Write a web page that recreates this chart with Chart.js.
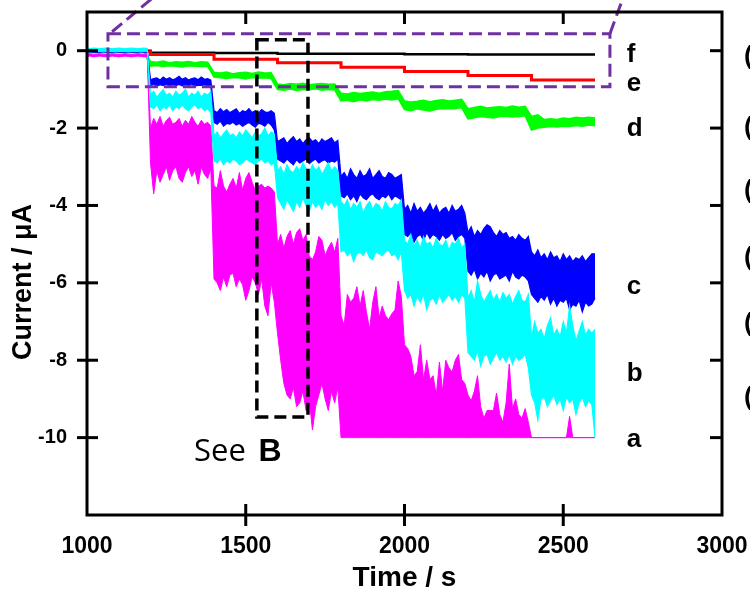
<!DOCTYPE html>
<html lang="en">
<head>
<meta charset="UTF-8">
<title>Amperometric response</title>
<script src="https://cdn.jsdelivr.net/npm/chart.js"></script>
<style>
  html, body { margin: 0; padding: 0; background: #fff; }
</style>
</head>
<body>
<canvas id="ampChart" width="750" height="589"></canvas>
<script>
// axis ticks
var xTicks = [1000, 1500, 2000, 2500, 3000];
var yTicks = [0, -2, -4, -6, -8, -10];

// noisy traces are stored as upper / lower edge of the noise band
var tStart = 1000;
var tStep = 10;    // a, b, c
var tStepD = 20;   // d

// trace a (magenta), 1000-2600 s every 10 s
var aHi = [
  -0.09, -0.08, -0.1, -0.09, -0.08, -0.09, -0.1, -0.09, -0.08, -0.09,
  -0.1, -0.09, -0.08, -0.09, -0.1, -0.09, -0.08, -0.09, -0.1, -0.09,
  -2.0, -1.75, -1.9, -1.7, -1.95, -1.8, -1.72, -1.9, -1.85, -1.75,
  -1.95, -1.8, -1.9, -1.7, -1.85, -1.95, -1.8, -1.9, -1.85, -1.95,
  -3.5, -3.55, -3.1, -3.5, -3.65, -3.45, -3.3, -3.55, -3.15, -3.6,
  -3.3, -3.15, -3.4, -3.6, -3.5, -3.45, -3.55, -3.5, -3.55, -3.65,
  -5.0, -4.75, -5.1, -4.8, -4.65, -5.0, -4.7, -4.6, -4.9, -4.75,
  -5.3, -5.4, -5.2, -4.8, -4.9, -5.3, -5.1, -4.95, -5.2, -4.85,
  -6.85, -7.1, -6.3, -6.5, -6.4, -6.1, -6.6, -6.2, -6.75, -7.2,
  -6.5, -6.1, -6.9, -6.6, -6.85, -6.95, -6.8, -6.7, -5.95, -6.35,
  -7.6, -7.7, -7.9, -8.4, -8.3, -7.6, -8.5, -8.0, -8.5, -8.4,
  -8.9, -8.05, -8.8, -8.0, -8.2, -8.3, -8.0, -7.85, -8.5, -8.6,
  -8.9, -9.05, -8.8, -8.4, -9.2, -9.5, -9.3, -9.3, -9.3, -8.85,
  -9.4, -9.6, -9.1, -8.1, -9.25, -9.0, -9.4, -9.5, -9.25, -9.6,
  -10, -10, -10, -10, -10, -10, -10, -10, -10, -10,
  -10, -10, -9.45, -10, -10, -10, -10, -10, -10, -10,
  -10
];
var aLo = [
  -0.15, -0.14, -0.16, -0.15, -0.14, -0.15, -0.16, -0.15, -0.14, -0.15,
  -0.16, -0.15, -0.14, -0.15, -0.16, -0.15, -0.14, -0.15, -0.16, -0.15,
  -2.9, -3.7, -3.1, -3.4, -3.2, -3.0, -3.35, -3.1, -3.0, -3.3,
  -3.4, -3.15, -3.0, -3.25, -3.1, -3.45, -3.0, -3.2, -3.3, -3.05,
  -5.9, -6.0, -6.2, -5.85, -6.1, -5.8, -5.75, -6.1, -5.9, -6.05,
  -6.45, -6.2, -5.85, -6.0, -6.3, -5.9, -6.6, -6.85, -6.0, -6.5,
  -7.3, -8.0, -8.6, -8.9, -9.0, -8.7, -9.2, -9.1, -8.8, -9.3,
  -9.0, -9.8, -9.2, -8.9, -8.6, -9.0, -9.3, -8.8, -9.1, -8.7,
  -10, -10, -10, -10, -10, -10, -10, -10, -10, -10,
  -10, -10, -10, -10, -10, -10, -10, -10, -10, -10,
  -10, -10, -10, -10, -10, -10, -10, -10, -10, -10,
  -10, -10, -10, -10, -10, -10, -10, -10, -10, -10,
  -10, -10, -10, -10, -10, -10, -10, -10, -10, -10,
  -10, -10, -10, -10, -10, -10, -10, -10, -10, -10,
  -10, -10, -10, -10, -10, -10, -10, -10, -10, -10,
  -10, -10, -10, -10, -10, -10, -10, -10, -10, -10,
  -10
];

// trace b (cyan)
var bHi = [
  0.06, 0.05, 0.07, 0.06, 0.05, 0.06, 0.07, 0.06, 0.05, 0.06,
  0.07, 0.06, 0.05, 0.06, 0.07, 0.06, 0.05, 0.06, 0.07, 0.06,
  -1.15, -1.05, -1.2, -1.1, -1.0, -1.15, -1.1, -1.2, -1.05, -1.15,
  -1.1, -1.0, -1.2, -1.1, -1.15, -1.05, -1.2, -1.1, -1.15, -1.05,
  -2.2, -2.1, -2.25, -2.15, -2.05, -2.2, -2.15, -2.25, -2.1, -2.2,
  -2.05, -2.15, -2.25, -2.1, -2.2, -2.15, -2.0, -2.2, -2.1, -2.15,
  -3.1, -3.0, -3.2, -2.95, -3.1, -3.15, -3.0, -3.1, -2.9, -3.05,
  -3.15, -2.95, -3.1, -3.0, -3.2, -3.05, -2.9, -3.1, -3.0, -3.1,
  -3.9, -4.0, -3.85, -4.1, -3.95, -4.05, -3.9, -4.2, -4.0, -3.9,
  -4.1, -3.95, -4.0, -4.15, -3.9, -4.05, -4.1, -3.95, -4.0, -3.85,
  -4.9, -5.0, -4.75, -5.05, -4.9, -5.1, -4.8, -5.0, -4.95, -5.1,
  -4.85, -5.0, -5.05, -4.9, -5.15, -4.95, -5.0, -4.85, -5.1, -5.0,
  -6.4, -6.2, -6.5, -5.95, -6.3, -6.5, -6.35, -6.2, -6.45, -6.3,
  -6.5, -6.25, -6.4, -6.3, -6.55, -6.35, -6.2, -6.45, -6.5, -6.3,
  -7.4, -7.0, -7.3, -7.2, -7.45, -7.1, -6.9, -7.35, -7.2, -7.4,
  -7.0, -7.3, -6.6, -7.1, -7.5, -7.25, -7.0, -7.35, -7.2, -7.3,
  -7.2
];
var bLo = [
  -0.02, -0.03, -0.02, -0.01, -0.02, -0.03, -0.02, -0.01, -0.02, -0.03,
  -0.02, -0.01, -0.02, -0.03, -0.02, -0.01, -0.02, -0.03, -0.02, -0.02,
  -1.45, -1.5, -1.4, -1.55, -1.45, -1.5, -1.4, -1.55, -1.45, -1.5,
  -1.4, -1.5, -1.55, -1.45, -1.4, -1.5, -1.45, -1.55, -1.5, -1.6,
  -2.85, -2.9, -2.8, -2.95, -2.85, -2.9, -2.8, -2.85, -2.95, -2.9,
  -2.8, -2.85, -2.9, -2.95, -2.85, -2.8, -2.9, -2.85, -2.95, -2.9,
  -3.8, -3.95, -4.1, -3.85, -4.0, -4.15, -3.9, -4.05, -3.8, -4.0,
  -4.15, -3.9, -4.05, -3.95, -4.1, -3.85, -4.0, -3.9, -4.05, -3.95,
  -5.2, -5.15, -5.3, -5.2, -5.45, -5.25, -5.2, -5.3, -5.15, -5.35,
  -5.4, -5.2, -5.25, -5.3, -5.2, -5.15, -5.3, -5.25, -5.4, -5.2,
  -6.2, -6.4, -6.3, -6.6, -6.35, -6.5, -6.3, -6.7, -6.45, -6.4,
  -6.55, -6.3, -6.5, -6.4, -6.3, -6.45, -6.35, -6.5, -6.3, -6.4,
  -7.8, -7.9, -8.0, -7.75, -8.15, -7.9, -7.85, -8.1, -7.95, -7.8,
  -8.0, -7.9, -8.05, -7.85, -8.1, -7.9, -8.0, -7.95, -7.85, -8.2,
  -8.9, -9.1, -9.55, -9.0, -8.95, -9.2, -9.05, -8.9, -9.15, -9.0,
  -9.3, -8.95, -9.1, -9.0, -9.4, -9.1, -8.95, -9.2, -9.05, -9.15,
  -10
];

// trace c (blue)
var cHi = [
  0, 0, 0, 0, 0, 0, 0, 0, 0, 0,
  0, 0, 0, 0, 0, 0, 0, 0, 0, 0,
  -0.75, -0.72, -0.7, -0.76, -0.68, -0.74, -0.7, -0.75, -0.72, -0.66,
  -0.74, -0.7, -0.76, -0.72, -0.7, -0.75, -0.68, -0.74, -0.72, -0.76,
  -1.55, -1.6, -1.5, -1.58, -1.52, -1.6, -1.55, -1.5, -1.62, -1.55,
  -1.58, -1.5, -1.6, -1.55, -1.62, -1.52, -1.58, -1.6, -1.55, -1.62,
  -2.35, -2.3, -2.25, -2.4, -2.3, -2.22, -2.35, -2.28, -2.4, -2.3,
  -2.25, -2.35, -2.3, -2.4, -2.28, -2.35, -2.3, -2.25, -2.38, -2.32,
  -3.25, -3.15, -3.3, -3.05, -3.2, -3.3, -3.1, -3.25, -3.2, -3.05,
  -3.3, -3.2, -3.1, -3.25, -3.3, -3.15, -3.2, -3.3, -3.25, -3.2,
  -4.1, -4.0, -4.2, -3.95, -4.15, -4.05, -4.2, -4.1, -3.95, -4.15,
  -4.0, -4.2, -4.1, -4.05, -4.2, -4.0, -4.15, -4.1, -4.0, -4.2,
  -4.7, -4.55, -4.8, -4.65, -4.75, -4.6, -4.5, -4.55, -4.7, -4.8,
  -4.65, -4.75, -4.7, -4.85, -4.8, -4.9, -4.75, -4.85, -4.9, -4.8,
  -5.2, -5.3, -5.15, -5.35, -5.25, -5.4, -5.2, -5.35, -5.3, -5.45,
  -5.25, -5.4, -5.3, -5.45, -5.35, -5.4, -5.3, -5.45, -5.35, -5.25,
  -5.25
];
var cLo = [
  -0.04, -0.04, -0.04, -0.04, -0.04, -0.04, -0.04, -0.04, -0.04, -0.04,
  -0.04, -0.04, -0.04, -0.04, -0.04, -0.04, -0.04, -0.04, -0.04, -0.04,
  -0.9, -0.86, -0.92, -0.88, -0.9, -0.86, -0.92, -0.88, -0.9, -0.87,
  -0.91, -0.88, -0.9, -0.86, -0.92, -0.89, -0.9, -0.88, -0.91, -0.9,
  -1.85, -1.9, -1.82, -1.95, -1.88, -1.9, -1.85, -1.92, -1.88, -1.95,
  -1.9, -1.85, -1.92, -1.98, -1.88, -1.9, -1.95, -1.85, -1.92, -2.05,
  -2.8, -2.85, -2.9, -2.8, -2.88, -2.95, -2.82, -2.9, -2.85, -2.8,
  -2.92, -2.85, -2.8, -2.9, -2.85, -2.82, -2.9, -2.85, -2.88, -2.8,
  -3.75, -3.8, -3.7, -3.85, -3.75, -3.9, -3.7, -3.8, -3.85, -3.75,
  -3.7, -3.8, -3.85, -3.75, -3.8, -3.7, -3.85, -3.75, -3.8, -3.85,
  -4.75, -4.8, -4.7, -4.95, -4.8, -4.75, -4.9, -4.7, -4.85, -4.75,
  -4.8, -4.9, -4.75, -4.85, -4.8, -4.7, -4.9, -4.8, -4.75, -4.85,
  -5.7, -5.8, -5.65, -5.9, -5.75, -5.85, -5.7, -5.95, -5.8, -5.75,
  -5.9, -5.85, -5.8, -5.95, -5.7, -5.85, -5.9, -5.8, -5.85, -5.95,
  -6.3, -6.4, -6.5, -6.35, -6.45, -6.3, -6.55, -6.4, -6.6, -6.45,
  -6.5, -6.4, -6.7, -6.55, -6.6, -6.45, -6.75, -6.5, -6.6, -6.55,
  -6.4
];

// trace d (green), 1000-2600 s every 20 s
var dHi = [
  0, 0, 0, 0, 0, 0, 0, 0, 0, 0,
  -0.28, -0.3, -0.27, -0.31, -0.29, -0.3, -0.28, -0.31, -0.29, -0.3,
  -0.56, -0.58, -0.55, -0.6, -0.57, -0.56, -0.59, -0.55, -0.58, -0.57,
  -0.86, -0.88, -0.85, -0.87, -0.84, -0.88, -0.86, -0.85, -0.87, -0.86,
  -1.1, -1.12, -1.08, -1.11, -1.09, -1.07, -1.1, -1.06, -1.05, -1.03,
  -1.3, -1.33, -1.31, -1.28, -1.32, -1.29, -1.27, -1.3, -1.28, -1.26,
  -1.5, -1.47, -1.44, -1.48, -1.46, -1.45, -1.47, -1.43, -1.46, -1.44,
  -1.7, -1.66, -1.78, -1.76, -1.78, -1.74, -1.76, -1.72, -1.74, -1.72,
  -1.74
];
var dLo = [
  -0.04, -0.04, -0.04, -0.04, -0.04, -0.04, -0.04, -0.04, -0.04, -0.04,
  -0.4, -0.38, -0.41, -0.39, -0.4, -0.42, -0.39, -0.4, -0.41, -0.4,
  -0.68, -0.7, -0.72, -0.69, -0.7, -0.73, -0.69, -0.71, -0.7, -0.72,
  -1.0, -1.02, -0.99, -1.03, -1.0, -1.01, -0.98, -1.02, -1.0, -1.01,
  -1.3, -1.28, -1.32, -1.27, -1.3, -1.26, -1.28, -1.25, -1.27, -1.24,
  -1.52, -1.55, -1.5, -1.53, -1.56, -1.51, -1.5, -1.49, -1.5, -1.47,
  -1.76, -1.73, -1.7, -1.72, -1.74, -1.7, -1.69, -1.71, -1.7, -1.68,
  -2.05, -2.0, -1.98, -1.96, -1.97, -1.95, -1.96, -1.93, -1.95, -1.92,
  -1.94
];

// traces e (red) and f (black): level held from each time to the next
var stepTimes = [1000, 1200, 1400, 1600, 1800, 2000, 2200, 2400, 2600];
var eLevels = [-0.03, -0.1, -0.22, -0.31, -0.43, -0.54, -0.64, -0.76, -0.76];
var fLevels = [0, -0.05, -0.06, -0.08, -0.08, -0.09, -0.1, -0.1, -0.1];

var FONT = '"Liberation Sans", Arial, sans-serif';

function edge(values, step) {
  return values.map(function (v, i) { return { x: tStart + i * step, y: v }; });
}

// a noisy trace: upper edge filled down to the lower edge
function band(name, hi, lo, step, color, width, order) {
  return [
    { label: name, data: edge(hi, step), borderColor: color, backgroundColor: color,
      borderWidth: width, fill: '+1', order: order },
    { label: name + ' (lower)', data: edge(lo, step), borderColor: color,
      borderWidth: width, fill: false, order: order }
  ];
}

function stepLine(levels) {
  return stepTimes.map(function (t, i) { return { x: t, y: levels[i] }; });
}

function seg(ctx, x1, y1, x2, y2) {
  ctx.beginPath();
  ctx.moveTo(x1, y1);
  ctx.lineTo(x2, y2);
  ctx.stroke();
}

// frame, tick marks, titles, trace letters and the dashed boxes
var decor = {
  id: 'decor',
  afterDraw: function (chart) {
    var ctx = chart.ctx;
    var area = chart.chartArea;
    var xs = chart.scales.x;
    var ys = chart.scales.y;
    var px = function (v) { return xs.getPixelForValue(v); };
    var py = function (v) { return ys.getPixelForValue(v); };

    ctx.save();

    // zoom-in box around the small currents
    ctx.strokeStyle = '#7030A0';
    ctx.lineWidth = 3;
    ctx.setLineDash([13, 6]);
    ctx.strokeRect(px(1066), py(0.44), px(2647) - px(1066), py(-0.93) - py(0.44));
    seg(ctx, px(1079), py(0.49), px(1212), py(1.4));
    seg(ctx, px(2647), py(0.44), px(2690), py(1.4));

    // box marking the region shown in panel B
    ctx.strokeStyle = '#000';
    ctx.lineWidth = 3.5;
    ctx.setLineDash([12, 6]);
    ctx.strokeRect(px(1535), py(0.28), px(1696) - px(1535), py(-9.47) - py(0.28));
    ctx.setLineDash([]);

    // frame
    ctx.lineWidth = 3;
    ctx.strokeRect(area.left, area.top, area.right - area.left, area.bottom - area.top);

    // tick marks
    yTicks.forEach(function (v) {
      var y = py(v);
      seg(ctx, area.left - 10, y, area.left + 11, y);
      seg(ctx, area.right - 12, y, area.right, y);
    });
    xTicks.slice(1, -1).forEach(function (v) {
      var x = px(v);
      seg(ctx, x, area.bottom - 11, x, area.bottom + 11);
      seg(ctx, x, area.top, x, area.top + 12);
    });

    ctx.fillStyle = '#000';

    // axis titles
    ctx.font = 'bold 28px ' + FONT;
    ctx.textAlign = 'center';
    ctx.textBaseline = 'alphabetic';
    ctx.fillText('Time / s', (area.left + area.right) / 2, 586);
    ctx.save();
    ctx.translate(31, 282);
    ctx.rotate(-Math.PI / 2);
    ctx.font = 'bold 27px ' + FONT;
    ctx.fillText('Current / \u03bcA', 0, 0);
    ctx.restore();

    // trace letters
    ctx.font = 'bold 26px ' + FONT;
    ctx.textAlign = 'left';
    [['f', -0.285], ['e', -1.035], ['d', -2.2], ['c', -6.29], ['b', -8.54], ['a', -10.25]]
      .forEach(function (l) { ctx.fillText(l[0], px(2700), py(l[1])); });

    // "See B" note under the dashed box
    ctx.font = '31px "Open Sans", ' + FONT;
    ctx.fillText('See', px(1337), py(-10.61));
    ctx.font = 'bold 32px ' + FONT;
    ctx.fillText('B', px(1540), py(-10.61));

    // edge of the neighbouring panel's labels
    ctx.font = 'bold 26px ' + FONT;
    ctx.textBaseline = 'middle';
    [57, 128, 191, 258, 324, 398].forEach(function (y) { ctx.fillText('(', 744, y); });

    ctx.restore();
  }
};

var datasets = []
  .concat(band('b', bHi, bLo, tStep, '#00FFFF', 1.1, 0))
  .concat(band('a', aHi, aLo, tStep, '#FF00FF', 1.0, 1))
  .concat(band('c', cHi, cLo, tStep, '#0000FF', 1.2, 2))
  .concat(band('d', dHi, dLo, tStepD, '#00FF00', 1.6, 3))
  .concat([
    { label: 'e', data: stepLine(eLevels), borderColor: '#FF0000', borderWidth: 3, stepped: 'before', fill: false, order: 4 },
    { label: 'f', data: stepLine(fLevels), borderColor: '#000000', borderWidth: 2.5, stepped: 'before', fill: false, order: 5 }
  ]);

var ctx = document.getElementById('ampChart').getContext('2d');
var myChart = new Chart(ctx, {
  type: 'line',
  data: { datasets: datasets },
  options: {
    responsive: false,
    animation: false,
    devicePixelRatio: 1,
    layout: { padding: { top: 12, right: 28, left: 0, bottom: 0 } },
    elements: {
      point: { radius: 0 },
      line: { tension: 0, borderJoinStyle: 'miter' }
    },
    plugins: { legend: { display: false }, tooltip: { enabled: false } },
    scales: {
      x: {
        type: 'linear',
        min: 1000,
        max: 3000,
        afterBuildTicks: function (s) { s.ticks = xTicks.map(function (v) { return { value: v }; }); },
        afterFit: function (s) { s.height = 74; s.paddingLeft = 0; s.paddingRight = 0; },
        grid: { display: false, drawTicks: false },
        border: { display: false },
        ticks: {
          color: '#000',
          padding: 18,
          maxRotation: 0,
          font: { family: FONT, size: 23, weight: 'bold' },
          callback: function (v) { return String(v); }
        }
      },
      y: {
        min: -12,
        max: 1,
        afterBuildTicks: function (s) { s.ticks = yTicks.map(function (v) { return { value: v }; }); },
        afterFit: function (s) { s.width = 87; s.paddingTop = 0; s.paddingBottom = 0; },
        grid: { display: false, drawTicks: false },
        border: { display: false },
        ticks: {
          color: '#000',
          padding: 20,
          font: { family: FONT, size: 20, weight: 'bold' },
          callback: function (v) { return String(v); }
        }
      }
    }
  },
  plugins: [decor]
});
</script>
</body>
</html>
